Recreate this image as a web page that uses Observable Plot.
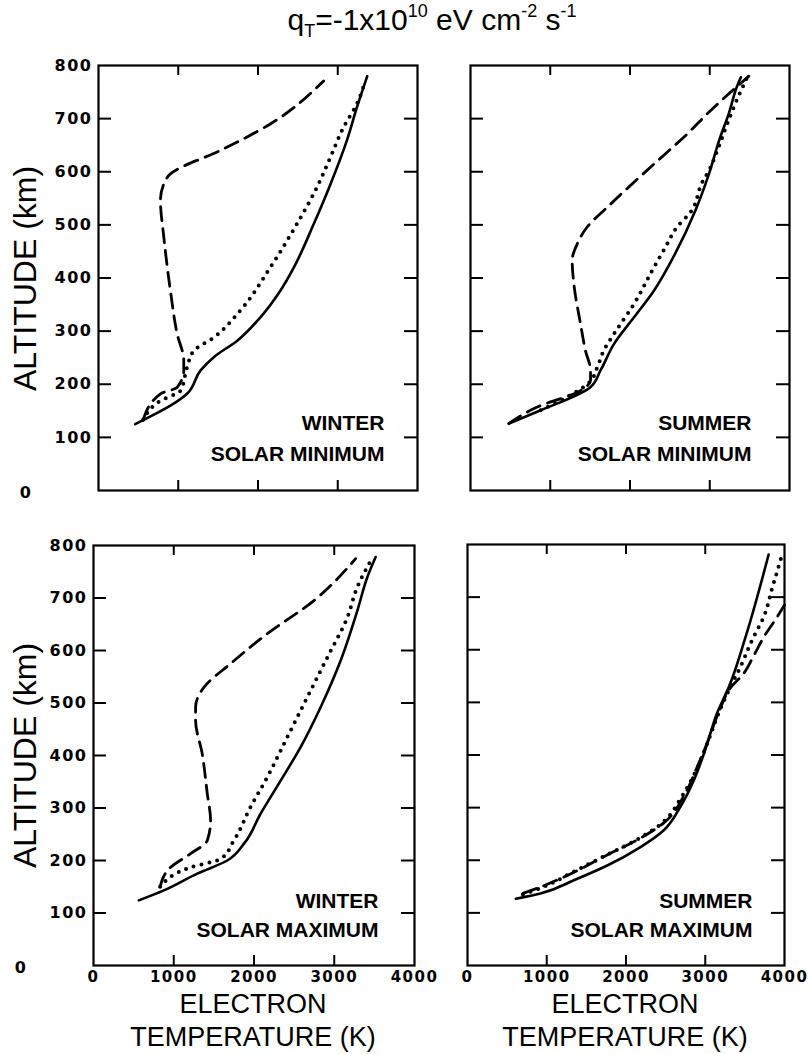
<!DOCTYPE html>
<html><head><meta charset="utf-8">
<script src="https://cdn.jsdelivr.net/npm/d3@7"></script>
<script src="https://cdn.jsdelivr.net/npm/@observablehq/plot@0.6"></script>
<style>
body{margin:0;background:#fff;}
#wrap{position:relative;width:812px;height:1054px;overflow:hidden;font-family:"Liberation Sans",Arial,sans-serif;color:#000;background:#fff;}
.panel{position:absolute;}
.panel svg{overflow:visible;}
.panel g[aria-label="y-axis tick label"], .panel g[aria-label="x-axis tick label"]{letter-spacing:1.5px;}
.title{position:absolute;left:0;width:864px;top:0px;text-align:center;font-size:30px;line-height:40px;white-space:nowrap;}
.title sub{font-size:18px;vertical-align:-7px;line-height:0;}
.title sup{font-size:18px;vertical-align:13px;line-height:0;}
.ylab{position:absolute;font-size:32px;line-height:34px;white-space:nowrap;transform-origin:0 0;}
.xlab{position:absolute;font-size:27px;text-align:center;line-height:27px;white-space:nowrap;}
</style></head><body><div id="wrap"></div>
<script>
// ---- tick values ----
const xTickLabels = [0, 1000, 2000, 3000, 4000];
const yTickLabels = [100, 200, 300, 400, 500, 600, 700, 800];
const xInnerTicks = [1000, 2000, 3000];
const yInnerTicks = [100, 200, 300, 400, 500, 600, 700];

// ---- Winter, solar minimum ----
const wMinSolidT  = [460, 1110, 1280, 1445, 1740, 2030, 2280, 2450, 2700, 2910, 3115, 3240, 3370];
const wMinSolidH  = [125, 182, 226, 251, 282, 326, 376, 420, 502, 577, 659, 721, 780];
const wMinDotT    = [560, 777, 1028, 1111, 1195, 1445, 1779, 2155, 2489, 2740, 2907, 3074, 3241, 3345];
const wMinDotH    = [133, 169, 188, 232, 263, 288, 339, 420, 502, 571, 627, 684, 728, 771];
const wMinDashT   = [560, 777, 986, 1069, 1069, 986, 902, 819, 777, 819, 902, 1528, 2155, 2823];
const wMinDashH   = [133, 182, 194, 226, 245, 295, 376, 477, 546, 577, 596, 640, 690, 771];

// ---- Summer, solar minimum ----
const sMinSolidT  = [480, 880, 1500, 1630, 1800, 2050, 2300, 2560, 2820, 2990, 3120, 3240, 3340, 3390];
const sMinSolidH  = [126, 151, 194, 226, 276, 326, 376, 444, 527, 596, 660, 710, 760, 778];
const sMinDotT    = [880, 1200, 1500, 1590, 1670, 1800, 2050, 2300, 2445, 2590, 2760, 2905, 3000, 3095, 3260, 3345, 3430, 3470];
const sMinDotH    = [151, 175, 205, 232, 263, 295, 351, 420, 458, 496, 524, 580, 605, 640, 706, 737, 765, 778];
const sMinDashT   = [480, 836, 1379, 1505, 1505, 1442, 1379, 1296, 1275, 1338, 1463, 1714, 2150, 2445, 2717, 2988, 3218, 3386, 3490];
const sMinDashH   = [126, 157, 188, 207, 226, 263, 314, 389, 433, 464, 496, 533, 594, 634, 671, 712, 744, 766, 780];

// ---- Winter, solar maximum ----
const wMaxSolidT  = [565, 877, 1293, 1667, 1875, 2082, 2332, 2581, 2830, 3080, 3288, 3413, 3516];
const wMaxSolidH  = [124, 143, 175, 200, 232, 289, 352, 416, 492, 581, 676, 740, 778];
const wMaxDotT    = [830, 1209, 1584, 1749, 1958, 2166, 2415, 2664, 2914, 3163, 3288, 3454];
const wMaxDotH    = [150, 187, 203, 238, 302, 359, 435, 511, 587, 663, 721, 771];
const wMaxDashT   = [830, 960, 1209, 1418, 1459, 1418, 1355, 1272, 1272, 1376, 1708, 2166, 2747, 3267];
const wMaxDashH   = [150, 187, 213, 238, 276, 327, 403, 467, 492, 530, 575, 632, 695, 775];

// ---- Summer, solar maximum ----
const sMaxSolidT  = [610, 921, 1341, 1763, 2183, 2477, 2688, 2856, 3000, 3150, 3300, 3500, 3800];
const sMaxSolidH  = [127, 137, 162, 190, 225, 257, 302, 352, 410, 480, 530, 620, 781];
const sMaxDotT    = [700, 1000, 1300, 1700, 2150, 2450, 2700, 2870, 3020, 3170, 3320, 3445, 3593, 3739, 3850, 3971];
const sMaxDotH    = [135, 152, 175, 206, 240, 270, 320, 366, 420, 480, 530, 568, 619, 663, 720, 781];
const sMaxDashT   = [700, 1000, 1258, 1762, 2183, 2477, 2730, 2880, 3030, 3180, 3330, 3469, 3616, 3742, 3910, 4000];
const sMaxDashH   = [137, 154, 171, 210, 242, 271, 322, 371, 425, 485, 530, 552, 590, 625, 663, 685];

const series = (T, H) => T.map((t, i) => ({t, h: H[i]}));

const wrap = document.getElementById("wrap");

function panel({left, top, w, h, showY, showX, label1, label2, solid, dotted, dashed, ldx, ldy1, ldy2}) {
  const mL = showY ? 80 : 12, mR = 14, mT = 12, mB = showX ? 30 : 12;
  const lineStyle = {x: "t", y: "h", stroke: "#000", curve: "monotone-y", strokeLinejoin: "round"};
  const labelStyle = {frameAnchor: "bottom-right", dx: -ldx, textAnchor: "end", lineAnchor: "bottom",
    fontSize: 21, fontWeight: "bold", fontFamily: "'Liberation Sans', Arial, sans-serif"};
  const fig = Plot.plot({
    width: mL + w + mR, height: mT + h + mB,
    marginLeft: mL, marginRight: mR, marginTop: mT, marginBottom: mB,
    x: {domain: [0, 4000], axis: null},
    y: {domain: [0, 800], axis: null},
    style: {background: "transparent", fontFamily: "'DejaVu Sans', sans-serif", overflow: "visible"},
    marks: [
      Plot.frame({stroke: "#000", strokeWidth: 2.2}),
      Plot.tickX(xInnerTicks, {x: d => d, insetTop: h - 10, stroke: "#000", strokeWidth: 2}),
      Plot.tickX(xInnerTicks, {x: d => d, insetBottom: h - 10, stroke: "#000", strokeWidth: 2}),
      Plot.tickY(yInnerTicks, {y: d => d, insetRight: w - 13, stroke: "#000", strokeWidth: 2}),
      Plot.tickY(yInnerTicks, {y: d => d, insetLeft: w - 13, stroke: "#000", strokeWidth: 2}),
      showY ? Plot.axisY(yTickLabels, {anchor: "left", label: null, tickSize: 0, tickPadding: 6, fontSize: 16, fontWeight: "bold", tickFormat: d => String(d)}) : null,
      showY ? Plot.axisY([0], {anchor: "left", label: null, tickSize: 0, tickPadding: 6, fontSize: 16, fontWeight: "bold", tickFormat: d => String(d), dx: -60, dy: 2}) : null,
      showX ? Plot.axisX(xTickLabels, {anchor: "bottom", label: null, tickSize: 0, tickPadding: 6, fontSize: 15, fontWeight: "bold", tickFormat: d => String(d)}) : null,
      Plot.line(series(solid[0], solid[1]), {...lineStyle, strokeWidth: 2.6}),
      Plot.line(series(dotted[0], dotted[1]), {...lineStyle, strokeWidth: 4, strokeDasharray: "0,8", strokeLinecap: "round"}),
      Plot.line(series(dashed[0], dashed[1]), {...lineStyle, strokeWidth: 2.8, strokeDasharray: "14,8"}),
      Plot.text([label1], {...labelStyle, dy: -ldy1}),
      Plot.text([label2], {...labelStyle, dy: -ldy2})
    ]
  });
  const d = document.createElement("div");
  d.className = "panel";
  d.style.left = (left - mL) + "px";
  d.style.top = (top - mT) + "px";
  d.appendChild(fig);
  wrap.appendChild(d);
}

panel({left: 98, top: 65, w: 319, h: 425, showY: true, showX: false, label1: "WINTER", label2: "SOLAR MINIMUM",
  solid: [wMinSolidT, wMinSolidH], dotted: [wMinDotT, wMinDotH], dashed: [wMinDashT, wMinDashH], ldx: 33, ldy1: 61, ldy2: 30});
panel({left: 470, top: 65, w: 319, h: 425, showY: false, showX: false, label1: "SUMMER", label2: "SOLAR MINIMUM",
  solid: [sMinSolidT, sMinSolidH], dotted: [sMinDotT, sMinDotH], dashed: [sMinDashT, sMinDashH], ldx: 38, ldy1: 61, ldy2: 30});
panel({left: 93, top: 545, w: 321, h: 420, showY: true, showX: true, label1: "WINTER", label2: "SOLAR MAXIMUM",
  solid: [wMaxSolidT, wMaxSolidH], dotted: [wMaxDotT, wMaxDotH], dashed: [wMaxDashT, wMaxDashH], ldx: 36, ldy1: 58, ldy2: 29});
panel({left: 467, top: 544, w: 317, h: 421, showY: false, showX: true, label1: "SUMMER", label2: "SOLAR MAXIMUM",
  solid: [sMaxSolidT, sMaxSolidH], dotted: [sMaxDotT, sMaxDotH], dashed: [sMaxDashT, sMaxDashH], ldx: 32, ldy1: 58, ldy2: 29});

// title
const t = document.createElement("div");
t.className = "title";
t.innerHTML = "q<sub>T</sub>=-1x10<sup>10</sup> eV cm<sup>-2</sup> s<sup>-1</sup>";
wrap.appendChild(t);

// y labels
for (const cy of [278, 755]) {
  const y = document.createElement("div");
  y.className = "ylab";
  y.textContent = "ALTITUDE (km)";
  wrap.appendChild(y);
  const wdt = y.getBoundingClientRect().width;
  y.style.left = "8px";
  y.style.top = (cy + wdt / 2) + "px";
  y.style.transform = "rotate(-90deg)";
}
// x labels
for (const cx of [253, 625]) {
  for (const [txt, top] of [["ELECTRON", 991], ["TEMPERATURE (K)", 1024]]) {
    const x = document.createElement("div");
    x.className = "xlab";
    x.textContent = txt;
    x.style.left = (cx - 150) + "px";
    x.style.width = "300px";
    x.style.top = top + "px";
    wrap.appendChild(x);
  }
}
</script></body></html>
